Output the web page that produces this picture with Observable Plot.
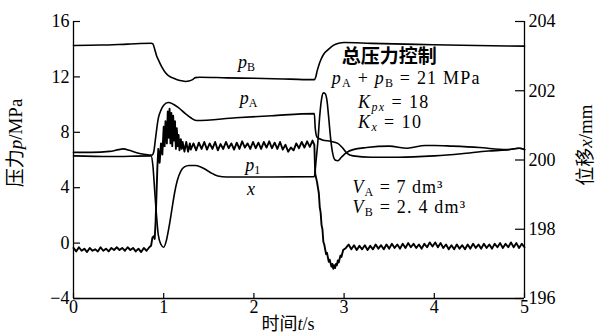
<!DOCTYPE html>
<html>
<head>
<meta charset="utf-8">
<script src="https://cdn.jsdelivr.net/npm/d3@7"></script>
<script src="https://cdn.jsdelivr.net/npm/@observablehq/plot@0.6"></script>
<style>
  body { margin: 0; background: #fff; }
  #chart svg { display: block; overflow: visible; }
</style>
</head>
<body>
<div id="chart"></div>
<script>
// Axis ticks
const timeTicks = [0, 1, 2, 3, 4, 5];             // t / s
const pressureTicks = [-4, 0, 4, 8, 12, 16];      // p / MPa (left)
const dispTicks = [196, 198, 200, 202, 204];      // x / mm (right)

// Chamber B pressure, [t (s), p (MPa)]
const pB = [
  [0, 14.27], [0.3, 14.3], [0.6, 14.37], [0.86, 14.43], [0.88, 14.38], [0.9, 14.0],
  [0.92, 13.55], [0.95, 13.1], [0.98, 12.7], [1.02, 12.3], [1.06, 12.05], [1.1, 11.93],
  [1.15, 11.8], [1.2, 11.72], [1.24, 11.67], [1.28, 11.7], [1.32, 11.8], [1.35, 11.95],
  [1.4, 11.98], [1.7, 11.93], [2.0, 11.9], [2.4, 11.84], [2.67, 11.8], [2.69, 12.1],
  [2.7, 12.4], [2.72, 12.85], [2.74, 13.2], [2.77, 13.6], [2.82, 13.95], [2.88, 14.28],
  [2.94, 14.43], [3.0, 14.48], [3.3, 14.42], [3.8, 14.35], [4.3, 14.28], [5.0, 14.22]
];

// Chamber A pressure, [t (s), p (MPa)]
const pA = [
  [0, 6.55], [0.2, 6.55], [0.4, 6.62], [0.5, 6.75], [0.55, 6.8], [0.62, 6.7], [0.7, 6.52],
  [0.8, 6.4], [0.87, 6.36], [0.89, 6.6], [0.91, 7.6], [0.94, 9.0], [0.97, 9.6], [1.0, 9.95],
  [1.05, 10.15], [1.1, 10.05], [1.16, 9.8], [1.24, 9.35], [1.3, 9.05], [1.36, 8.85],
  [1.8, 9.05], [2.2, 9.2], [2.67, 9.35], [2.68, 8.3], [2.7, 7.65], [2.76, 7.45], [2.85, 7.35],
  [2.93, 7.2], [2.98, 6.9], [3.03, 6.5], [3.1, 6.3], [3.3, 6.2], [3.6, 6.2], [4.0, 6.3],
  [4.3, 6.45], [4.6, 6.65], [4.8, 6.72], [4.94, 6.85], [5.0, 6.75]
];

// Pilot pressure p1 (noisy trace), [t (s), p (MPa)]
const p1 = [
  [0.00, -0.35], [0.03, -0.6], [0.06, -0.3], [0.09, -0.55], [0.12, -0.4], [0.15, -0.65],
  [0.18, -0.35], [0.21, -0.55], [0.24, -0.45], [0.27, -0.6], [0.30, -0.3], [0.33, -0.55],
  [0.36, -0.4], [0.39, -0.6], [0.42, -0.35], [0.45, -0.5], [0.48, -0.3], [0.51, -0.5],
  [0.54, -0.35], [0.57, -0.55], [0.60, -0.3], [0.63, -0.5], [0.66, -0.35], [0.69, -0.6],
  [0.72, -0.4], [0.75, -0.65], [0.78, -0.35], [0.81, -0.55], [0.84, -0.3], [0.86, -0.2],
  [0.875, 0.4], [0.89, 0.5], [0.9, 0.3], [0.91, 1.5], [0.92, 3.5], [0.93, 5.5], [0.94, 6.8],
  [0.955, 5.8], [0.97, 7.2], [0.985, 6.4], [1.0, 8.4], [1.01, 7.0], [1.02, 8.8], [1.035, 7.2],
  [1.045, 9.5], [1.055, 7.6], [1.065, 9.7], [1.075, 7.2], [1.085, 9.4], [1.095, 7.0], [1.105, 9.2],
  [1.115, 7.4], [1.125, 8.8], [1.135, 6.8], [1.145, 8.3], [1.155, 7.0], [1.165, 7.8], [1.175, 6.7],
  [1.19, 7.5], [1.2, 6.8], [1.21, 7.3], [1.23, 6.6], [1.25, 7.3], [1.27, 6.6], [1.29, 7.2],
  [1.30, 6.75], [1.33, 7.2], [1.36, 6.7], [1.39, 7.25], [1.42, 6.8], [1.45, 7.3], [1.48, 6.75],
  [1.51, 7.2], [1.54, 6.8], [1.57, 7.3], [1.60, 6.7], [1.63, 7.15], [1.66, 6.8], [1.69, 7.3],
  [1.72, 6.85], [1.75, 7.2], [1.78, 6.75], [1.81, 7.25], [1.84, 6.8], [1.87, 7.35], [1.90, 6.9],
  [1.93, 7.2], [1.96, 6.8], [1.99, 7.3], [2.02, 6.85], [2.05, 7.25], [2.08, 6.8], [2.11, 7.3],
  [2.14, 6.9], [2.17, 7.35], [2.20, 6.85], [2.23, 7.25], [2.26, 6.8], [2.29, 7.3], [2.32, 6.75],
  [2.35, 7.1], [2.38, 6.6], [2.41, 6.9], [2.44, 6.7], [2.47, 7.2], [2.50, 6.85], [2.53, 7.3],
  [2.56, 6.9], [2.59, 7.35], [2.62, 6.95], [2.65, 7.4], [2.67, 7.1], [2.68, 5.0], [2.70, 4.4],
  [2.72, 3.6], [2.73, 2.6], [2.74, 2.2], [2.75, 1.3], [2.76, 1.0], [2.77, 0.1], [2.78, -0.1],
  [2.8, -0.8], [2.81, -0.7], [2.83, -1.35], [2.84, -1.2], [2.86, -1.7], [2.87, -1.5],
  [2.88, -1.85], [2.89, -1.6], [2.9, -1.8], [2.91, -1.5], [2.92, -1.6], [2.93, -1.25],
  [2.94, -1.4], [2.96, -0.9], [2.97, -1.0], [2.99, -0.5], [3.02, -0.35], [3.05, -0.1],
  [3.08, -0.45], [3.11, -0.15], [3.14, -0.5], [3.17, -0.2], [3.20, -0.45], [3.23, -0.15],
  [3.26, -0.5], [3.29, -0.2], [3.32, -0.45], [3.35, -0.1], [3.38, -0.4], [3.41, -0.15],
  [3.44, -0.45], [3.47, -0.1], [3.50, -0.4], [3.53, -0.05], [3.56, -0.35], [3.59, -0.1],
  [3.62, -0.4], [3.65, -0.05], [3.68, -0.35], [3.71, 0.0], [3.74, -0.3], [3.77, -0.05],
  [3.80, -0.35], [3.83, -0.1], [3.86, -0.4], [3.89, -0.05], [3.92, -0.3], [3.95, 0.05],
  [3.98, -0.25], [4.01, 0.05], [4.04, -0.3], [4.07, 0.0], [4.10, -0.35], [4.13, -0.1],
  [4.16, -0.45], [4.19, -0.15], [4.22, -0.45], [4.25, -0.1], [4.28, -0.4], [4.31, -0.15],
  [4.34, -0.45], [4.37, -0.1], [4.40, -0.4], [4.43, -0.05], [4.46, -0.35], [4.49, -0.1],
  [4.52, -0.4], [4.55, -0.05], [4.58, -0.35], [4.61, -0.1], [4.64, -0.4], [4.67, -0.05],
  [4.70, -0.3], [4.73, 0.0], [4.76, -0.35], [4.79, -0.05], [4.82, -0.3], [4.85, 0.05],
  [4.88, -0.3], [4.91, 0.0], [4.94, -0.35], [4.97, -0.05], [5.0, -0.3]
];

// Cylinder displacement x, [t (s), x (mm)] — read against the right axis
const xDisp = [
  [0, 200.12], [0.4, 200.10], [0.86, 200.12], [0.88, 199.84], [0.9, 199.12], [0.92, 198.40],
  [0.94, 197.84], [0.97, 197.56], [1.0, 197.48], [1.03, 197.68], [1.06, 198.08], [1.09, 198.56],
  [1.12, 199.04], [1.15, 199.40], [1.19, 199.68], [1.23, 199.80], [1.28, 199.84], [1.35, 199.84],
  [1.41, 199.80], [1.47, 199.72], [1.53, 199.62], [1.6, 199.54], [1.7, 199.51], [2.0, 199.51],
  [2.67, 199.52], [2.69, 200.0], [2.71, 200.56], [2.73, 201.28], [2.75, 201.76], [2.77, 201.94],
  [2.79, 201.92], [2.81, 201.72], [2.83, 201.20], [2.85, 200.64], [2.87, 200.24], [2.9, 200.0],
  [2.93, 199.98], [2.97, 200.08], [3.03, 200.22], [3.1, 200.30], [3.25, 200.36], [3.5, 200.40],
  [3.7, 200.34], [3.9, 200.42], [4.0, 200.42], [4.2, 200.40], [4.5, 200.36], [4.8, 200.30],
  [4.94, 200.34], [5.0, 200.30]
];

// The displacement axis (196…204 mm) shares the frame with the pressure axis (−4…16 MPa)
const mmToP = mm => -4 + (mm - 196) * 20 / 8;
const pToMm = p => Math.round(196 + (p + 4) * 8 / 20);

const W = 601, H = 336;
const M = {top: 21, right: 77, bottom: 38, left: 73};
const innerW = W - M.left - M.right;
const innerH = H - M.top - M.bottom;

const serif = "Liberation Serif, Times New Roman, serif";
const cjk = "Noto Sans CJK SC, sans-serif";

const lineStyle = {x: d => d[0], y: d => d[1], stroke: "#000", strokeWidth: 1.6, curve: "monotone-x"};

const plot = Plot.plot({
  width: W,
  height: H,
  marginTop: M.top,
  marginRight: M.right,
  marginBottom: M.bottom,
  marginLeft: M.left,
  style: {fontFamily: serif, fontSize: "18px", color: "#000", background: "#fff"},
  x: {domain: [0, 5]},
  y: {domain: [-4, 16]},
  marks: [
    // frame: left, right and bottom edges
    Plot.ruleX([0, 5], {stroke: "#000", strokeWidth: 1.3}),
    Plot.ruleY([-4], {stroke: "#000", strokeWidth: 1.3}),
    // inward tick marks
    Plot.tickX(timeTicks, {x: d => d, stroke: "#000", strokeWidth: 1.2, insetTop: innerH - 5}),
    Plot.tickY(pressureTicks, {y: d => d, stroke: "#000", strokeWidth: 1.2, insetRight: innerW - 7}),
    Plot.tickY(dispTicks.map(mmToP), {y: d => d, stroke: "#000", strokeWidth: 1.2, insetLeft: innerW - 9}),
    // tick labels
    Plot.axisX(timeTicks, {tickSize: 0, tickPadding: 2, label: null, fontFamily: serif}),
    Plot.axisY(pressureTicks, {anchor: "left", tickSize: 0, tickPadding: 4, label: null, fontFamily: serif}),
    Plot.axisY(dispTicks.map(mmToP), {anchor: "right", tickSize: 0, tickPadding: 4, label: null, fontFamily: serif,
      tickFormat: p => String(pToMm(p))}),
    // traces
    Plot.line(pB, lineStyle),
    Plot.line(pA, lineStyle),
    Plot.line(xDisp, {...lineStyle, y: d => mmToP(d[1])}),
    Plot.line(p1, {x: d => d[0], y: d => d[1], stroke: "#000", strokeWidth: 1.9, curve: "linear"})
  ]
});

document.getElementById("chart").appendChild(plot);

const svg = d3.select(plot);

// Rich-text annotations (subscripts, italics) placed in data coordinates
const fx = d3.scaleLinear([0, 5], [M.left, W - M.right]);
const fy = d3.scaleLinear([-4, 16], [H - M.bottom, M.top]);

function rich(x, y, parts, opts = {}) {
  const t = svg.append("text")
    .attr("x", x).attr("y", y)
    .attr("text-anchor", opts.anchor || "start")
    .attr("font-family", serif)
    .attr("font-size", opts.size || 18)
    .attr("fill", "#000");
  if (opts.spacing) t.attr("letter-spacing", opts.spacing);
  if (opts.rotate) t.attr("transform", `rotate(${opts.rotate},${x},${y})`);
  let level = 0;
  for (const p of parts) {
    const s = t.append("tspan").text(p.text);
    const lv = p.sub ? 1 : 0;
    const shift = (lv - level) * 3;
    if (shift) s.attr("dy", shift);
    level = lv;
    if (p.italic) s.attr("font-style", "italic");
    if (p.font) s.attr("font-family", p.font);
    if (p.sub) s.attr("font-size", 12);
    if (p.weight) s.attr("font-weight", p.weight);
    if (p.dx) s.attr("dx", p.dx);
  }
  return t;
}

// curve names
rich(fx(1.83), fy(12.6), [{text: "p", italic: true}, {text: "B", sub: true}]);
rich(fx(1.85), fy(10.0), [{text: "p", italic: true}, {text: "A", sub: true}]);
rich(fx(1.91), fy(5.2), [{text: "p", italic: true}, {text: "1", sub: true}]);
rich(fx(1.93), fy(3.45), [{text: "x", italic: true}]);

// control settings
rich(fx(2.98), fy(12.95), [{text: "总压力控制", font: cjk, weight: 700}], {size: 19});
rich(fx(2.87), fy(11.45), [
  {text: "p", italic: true}, {text: "A", sub: true}, {text: " + "},
  {text: "p", italic: true}, {text: "B", sub: true}, {text: " = 21 MPa"}
], {spacing: 1.2});
rich(fx(3.16), fy(9.7), [
  {text: "K", italic: true}, {text: "px", sub: true, italic: true}, {text: " = 18"}
], {spacing: 1.4});
rich(fx(3.16), fy(8.25), [
  {text: "K", italic: true}, {text: "x", sub: true, italic: true}, {text: " = 10"}
], {spacing: 1.4});
rich(fx(3.10), fy(3.6), [
  {text: "V", italic: true}, {text: "A", sub: true}, {text: " = 7 dm³"}
], {spacing: 1.0});
rich(fx(3.10), fy(2.15), [
  {text: "V", italic: true}, {text: "B", sub: true}, {text: " = 2. 4 dm³"}
], {spacing: 1.2});

// axis titles
rich(288, 330, [{text: "时间", font: cjk}, {text: "t", italic: true}, {text: "/s"}], {size: 18, anchor: "middle"});
rich(22, 143, [{text: "压力", font: cjk}, {text: "p", italic: true}, {text: "/MPa"}], {size: 19, anchor: "middle", rotate: -90});
rich(592, 145, [{text: "位移", font: cjk}, {text: "x", italic: true}, {text: "/mm"}], {size: 19, anchor: "middle", rotate: -90});
</script>
</body>
</html>
